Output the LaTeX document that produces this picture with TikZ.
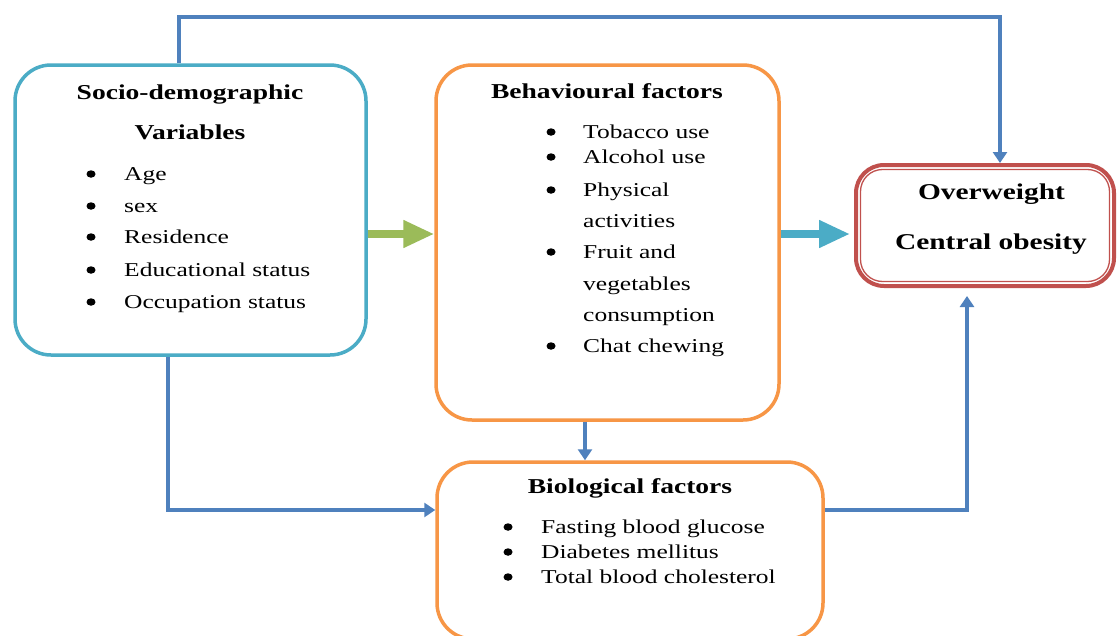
\documentclass[tikz,border=0pt]{standalone}
\usepackage{fontspec}
\setmainfont{Liberation Serif}[FakeStretch=1.3]
\usepackage{xcolor}
\usetikzlibrary{arrows.meta, shapes.geometric}

\definecolor{socblue}{HTML}{4BACC6}
\definecolor{behorange}{HTML}{F79646}
\definecolor{outred}{HTML}{C0504D}
\definecolor{linkblue}{HTML}{4F81BD}
\definecolor{pushgreen}{HTML}{9BBB59}

\begin{document}
\begin{tikzpicture}[x=1pt, y=-1pt,
    box/.style={draw, line width=3.5pt, rounded corners=36pt, inner sep=0pt},
    link/.style={draw=linkblue, line width=3.8pt, -{Triangle[width=14pt,length=11pt]}},
    bigarrow/.style={line width=7.5pt, -{Triangle[width=26pt,length=31pt]}},
    ttl/.style={font=\fontsize{21.2}{25}\selectfont\bfseries, anchor=base, inner sep=0pt},
    itm/.style={font=\fontsize{19.6}{24}\selectfont, anchor=base west, inner sep=0pt},
    dot/.style={ellipse, fill=black, inner sep=0pt, minimum width=9pt, minimum height=7.5pt}]
    \useasboundingbox[fill=white] (0,0) rectangle (1117,635);

    % Boxes
    \node[box, draw=socblue, minimum width=351pt, minimum height=290pt] (socio) at (190.5,210) {};
    \node[box, draw=behorange, minimum width=343pt, minimum height=355pt] (behav) at (607.5,242.5) {};
    \node[box, draw=behorange, minimum width=386pt, minimum height=177pt] (bio) at (630,550.5) {};
    \node[box, draw=outred, line width=4pt, rounded corners=28pt, minimum width=258pt, minimum height=121pt] (outcome) at (985,225.5) {};
    \draw[outred, line width=1.3pt, rounded corners=22pt]
        ([xshift=6.5pt,yshift=6.5pt]outcome.south west) rectangle ([xshift=-6.5pt,yshift=-6.5pt]outcome.north east);

    % Socio-demographic variables
    \node[ttl] (socTitle) at (190,99) {Socio-demographic};
    \node[ttl] (socVar) at (190,139) {Variables};
    \foreach \y/\t [count=\i] in {180/Age, 212/sex, 243/Residence, 276/Educational status, 308/Occupation status} {
        \node[dot] (socDot\i) at (91,\y-6) {};
        \node[itm] (socItem\i) at (124,\y) {\t};
    }

    % Behavioural factors
    \node[ttl] (behTitle) at (607,98) {Behavioural factors};
    \foreach \y [count=\i] in {138, 163, 196, 258, 352}
        \node[dot] (behDot\i) at (551,\y-6) {};
    \foreach \y/\t [count=\i] in {138/Tobacco use, 163/Alcohol use, 196/Physical, 227/activities, 258/Fruit and, 290/vegetables, 321/consumption, 352/Chat chewing}
        \node[itm] (behItem\i) at (583,\y) {\t};

    % Biological factors
    \node[ttl] (bioTitle) at (630,493) {Biological factors};
    \foreach \y/\t [count=\i] in {533/Fasting blood glucose, 558/Diabetes mellitus, 583/Total blood cholesterol} {
        \node[dot] (bioDot\i) at (508,\y-6) {};
        \node[itm] (bioItem\i) at (541,\y) {\t};
    }

    % Outcome
    \node[ttl, font=\fontsize{22.6}{27}\selectfont\bfseries] (outOver) at (991.5,199) {Overweight};
    \node[ttl, font=\fontsize{22.6}{27}\selectfont\bfseries] (outCent) at (991,249) {Central obesity};

    % Connectors
    \coordinate (topL) at (179,17);
    \coordinate (topR) at (1000,17);
    \coordinate (midrow) at (0,234);
    \coordinate (midx) at (585,0);
    \coordinate (botL) at (168,510);
    \coordinate (botR) at (967,510);
    \draw[link] (socio.north -| topL) -- (topL) -- (topR) -- (outcome.north -| topR);
    \draw[bigarrow, draw=pushgreen, fill=pushgreen] (socio.east |- midrow) -- (behav.west |- midrow);
    \draw[bigarrow, draw=socblue, fill=socblue, shorten >=4pt] (behav.east |- midrow) -- (outcome.west |- midrow);
    \draw[link] (behav.south -| midx) -- (bio.north -| midx);
    \draw[link] (socio.south -| botL) -- (botL) -- (bio.west |- botL);
    \draw[link, shorten >=8pt] (bio.east |- botR) -- (botR) -- (outcome.south -| botR);
\end{tikzpicture}
\end{document}
